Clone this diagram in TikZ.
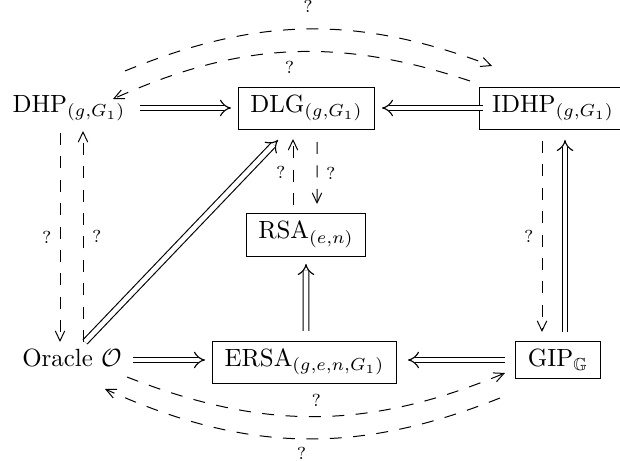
\documentclass[tikz,border=0pt]{standalone}
\usepackage{amssymb}
\usetikzlibrary{arrows.meta}
\begin{document}
\begin{tikzpicture}[x=0.4016pt,y=-0.4016pt,
  plain/.style={inner sep=0pt, anchor=base},
  boxed/.style={draw, line width=0.4pt, inner xsep=4.9pt, inner ysep=3.3pt, anchor=base},
  dbl/.style={double, double distance=1.9pt, line width=0.45pt, -{Implies}},
  dsh/.style={line width=0.4pt, dash pattern=on 4.8pt off 4.6pt, -{Straight Barb[length=4pt,width=3.8pt]}},
  q/.style={font=\scriptsize, inner sep=1pt}]
\useasboundingbox (0,0) rectangle (620,461);
% nodes
\node[plain] (dhp) at (69,112.5) {$\mathrm{DHP}_{(g,G_1)}$};
\node[boxed] (dlg) at (306.5,112.5) {$\mathrm{DLG}_{(g,G_1)}$};
\node[boxed] (idhp) at (553,112.5) {$\mathrm{IDHP}_{(g,G_1)}$};
\node[boxed] (rsa) at (306,239) {$\mathrm{RSA}_{(e,n)}$};
\node[plain] (oracle) at (72,366.5) {Oracle $\mathcal{O}$};
\node[boxed] (ersa) at (304.5,366.5) {$\mathrm{ERSA}_{(g,e,n,G_1)}$};
\node[boxed] (gip) at (558,366.5) {$\mathrm{GIP}_{\mathbb{G}}$};
% double implications
\draw[dbl] ([shift={(71,-4.5)}]dhp.base) -- ([shift={(-75.5,-4.5)}]dlg.base);
\draw[dbl] ([shift={(-70,-4.5)}]idhp.base) -- ([shift={(75.5,-4.5)}]dlg.base);
\draw[dbl] ([shift={(13,-24.5)}]oracle.base) -- ([shift={(-28.5,27.5)}]dlg.base);
\draw[dbl] ([shift={(61,-6.5)}]oracle.base) -- ([shift={(-99.5,-6.5)}]ersa.base);
\draw[dbl] ([shift={(-53,-6.5)}]gip.base) -- ([shift={(103.5,-6.5)}]ersa.base);
\draw[dbl] ([shift={(1.5,-35.5)}]ersa.base) -- ([shift={(0,25)}]rsa.base);
\draw[dbl] ([shift={(7,-34.5)}]gip.base) -- ([shift={(12,27.5)}]idhp.base);
% dashed verticals
\draw[dsh] ([shift={(-9,20.5)}]dhp.base) -- node[q,left=2.2pt]{?} ([shift={(-12,-24.5)}]oracle.base);
\draw[dsh] ([shift={(11,-24.5)}]oracle.base) -- node[q,right=2.5pt]{?} ([shift={(14,18.5)}]dhp.base);
\draw[dsh] ([shift={(10.5,29.5)}]dlg.base) -- node[q,right=2.5pt]{?} ([shift={(11,-35)}]rsa.base);
\draw[dsh] ([shift={(-13,-34)}]rsa.base) -- node[q,left=1.8pt]{?} ([shift={(-13.5,26.5)}]dlg.base);
\draw[dsh] ([shift={(-11,28.5)}]idhp.base) -- node[q,left=2.2pt]{?} ([shift={(-16,-34.5)}]gip.base);
% dashed curves
\draw[dsh] ([shift={(56,-41.5)}]dhp.base) to[bend left=21.5] node[q,midway,above=5.5pt]{?} ([shift={(-61,-46.5)}]idhp.base);
\draw[dsh] ([shift={(-83,-31.5)}]idhp.base) to[bend right=21.3] node[q,midway,below=2.5pt]{?} ([shift={(44,-13.5)}]dhp.base);
\draw[dsh] ([shift={(55,10.5)}]oracle.base) to[bend right=22] node[q,midway,above=3pt]{?} ([shift={(-53,6.5)}]gip.base);
\draw[dsh] ([shift={(-58,31.5)}]gip.base) to[bend left=23] node[q,midway,below=2pt]{?} ([shift={(33,22.5)}]oracle.base);
\end{tikzpicture}
\end{document}
